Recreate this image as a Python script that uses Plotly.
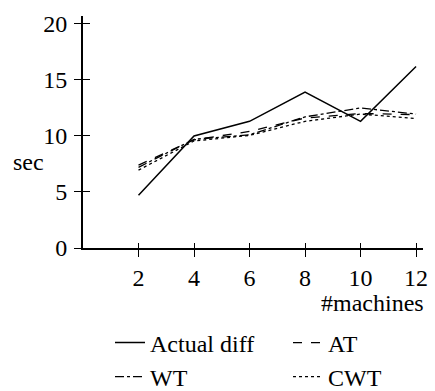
import plotly.graph_objects as go

machines = [2, 4, 6, 8, 10, 12]
actual_diff = [4.7, 10.0, 11.3, 13.9, 11.3, 16.2]
at_vals = [7.4, 9.65, 10.4, 11.6, 12.0, 11.9]
wt_vals = [7.2, 9.7, 10.1, 11.7, 12.5, 11.95]
cwt_vals = [6.95, 9.55, 10.05, 11.3, 11.95, 11.55]

x_ticks = [2, 4, 6, 8, 10, 12]
y_ticks = [0, 5, 10, 15, 20]

FONT = "Liberation Serif"
FS = 24

fig = go.Figure()
fig.add_trace(go.Scatter(x=machines, y=actual_diff, mode="lines", name="Actual diff",
                         line=dict(color="black", width=1.5, dash="solid"), legend="legend"))
fig.add_trace(go.Scatter(x=machines, y=at_vals, mode="lines", name="AT",
                         line=dict(color="black", width=1.3, dash="dash"), legend="legend2"))
fig.add_trace(go.Scatter(x=machines, y=wt_vals, mode="lines", name="WT",
                         line=dict(color="black", width=1.3, dash="dashdot"), legend="legend3"))
fig.add_trace(go.Scatter(x=machines, y=cwt_vals, mode="lines", name="CWT",
                         line=dict(color="black", width=1.3, dash="dot"), legend="legend4"))

axis_common = dict(showgrid=False, zeroline=False, showline=True, linecolor="black",
                   linewidth=2, ticklen=7, tickwidth=1.3, tickcolor="black")


def leg(xpx, ypx):
    return dict(orientation="h", x=xpx / 435, xanchor="left", y=1 - ypx / 391,
                yanchor="middle", yref="container", xref="container",
                font=dict(size=FS, family=FONT), bgcolor="rgba(0,0,0,0)")


fig.update_layout(
    width=435, height=391,
    margin=dict(l=83, r=7, t=16, b=143),
    paper_bgcolor="white", plot_bgcolor="white",
    font=dict(family=FONT, size=FS, color="black"),
    xaxis=dict(range=[0, 12.25], tickvals=x_ticks, ticks="outside",
               tickfont=dict(family=FONT, size=FS), **axis_common),
    yaxis=dict(range=[0, 20.7], tickvals=y_ticks, ticks="outside", ticklabelstandoff=2,
               tickfont=dict(family=FONT, size=FS), **axis_common),
    xaxis2=dict(range=[0, 12.25], tickvals=x_ticks, ticks="inside", overlaying="x",
                showticklabels=False, showgrid=False, zeroline=False, showline=False,
                ticklen=5, tickwidth=1.3, tickcolor="black", side="bottom"),
    yaxis2=dict(range=[0, 20.7], tickvals=y_ticks, ticks="inside", overlaying="y",
                showticklabels=False, showgrid=False, zeroline=False, showline=False,
                ticklen=7, tickwidth=1.3, tickcolor="black", side="left"),
    legend=leg(110, 343),
    legend2=leg(288, 343),
    legend3=leg(110, 377),
    legend4=leg(288, 377),
    annotations=[
        dict(text="sec", xref="paper", yref="paper", x=-0.159, y=0.37, xanchor="center",
             yanchor="middle", showarrow=False, font=dict(size=FS, family=FONT)),
        dict(text="#machines", xref="paper", yref="paper", x=1.01, y=-0.235, xanchor="right",
             yanchor="middle", showarrow=False, font=dict(size=FS, family=FONT)),
    ],
)
fig.add_trace(go.Scatter(x=[None], y=[None], xaxis="x2", yaxis="y2", showlegend=False,
                         hoverinfo="skip"))

fig.write_html("out.html")
